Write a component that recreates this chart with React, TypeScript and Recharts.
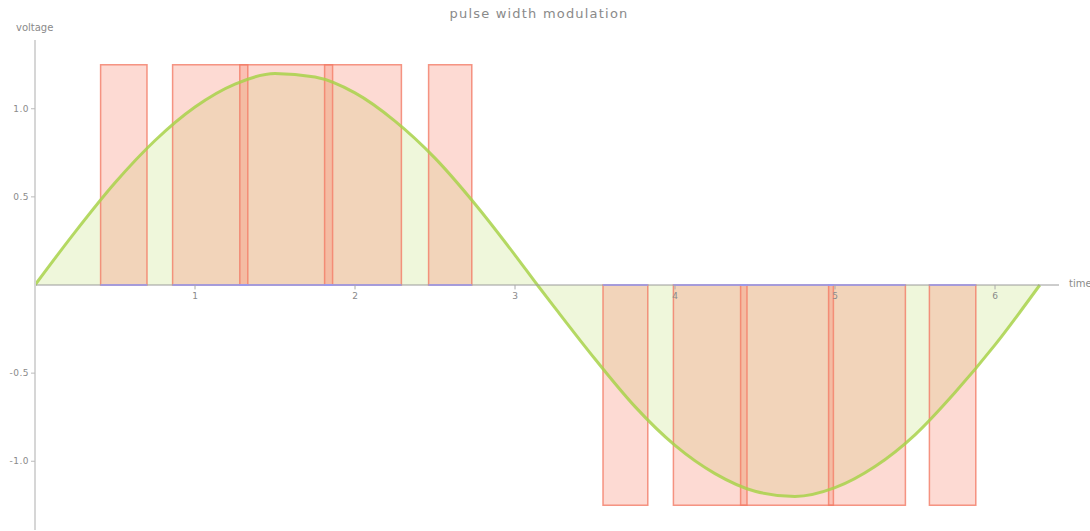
import {
  ComposedChart,
  Area,
  Line,
  XAxis,
  YAxis,
  ReferenceArea,
  ReferenceLine,
  ReferenceDot,
} from "recharts";

// sine reference, sampled along time
const sineTime = [0, 0.25, 0.5, 0.75, 1.0, 1.25, 1.5, 1.75, 2.0, 2.25, 2.5, 2.75, 3.0, 3.14, 3.25, 3.5, 3.75, 4.0, 4.25, 4.5, 4.75, 5.0, 5.25, 5.5, 5.75, 6.0, 6.28];
const sineVoltage = [0, 0.3, 0.58, 0.82, 1.01, 1.14, 1.2, 1.18, 1.09, 0.93, 0.72, 0.46, 0.17, 0, -0.13, -0.42, -0.69, -0.91, -1.07, -1.17, -1.2, -1.15, -1.03, -0.85, -0.61, -0.34, 0];

// pulse windows (start, end) and level
const pulseStart = [0.41, 0.86, 1.28, 1.81, 2.46, 3.55, 3.99, 4.41, 4.96, 5.59];
const pulseEnd = [0.7, 1.33, 1.86, 2.29, 2.73, 3.83, 4.45, 4.99, 5.44, 5.88];
const pulseLevel = [1.25, 1.25, 1.25, 1.25, 1.25, -1.25, -1.25, -1.25, -1.25, -1.25];

const xTicks = [1, 2, 3, 4, 5, 6];
const yTicks = [-1, -0.5, 0.5, 1];

const sineData = sineTime.map((t, i) => ({ t, v: sineVoltage[i] }));

const font = "DejaVu Sans, sans-serif";
const grey = "#8a8a8a";

export default function App() {
  return (
    <div style={{ position: "absolute", left: 0, top: 0, width: 1090, height: 531, background: "#fff" }}>
      <div
        style={{
          fontFamily: font,
          color: grey,
          position: "absolute",
          left: 0,
          width: 1078,
          top: 6,
          textAlign: "center",
          fontSize: 13,
          letterSpacing: 1.2,
        }}
      >
        pulse width modulation
      </div>
      <div style={{ fontFamily: font, color: grey, position: "absolute", left: 16, top: 22, fontSize: 10 }}>voltage</div>
      <div style={{ fontFamily: font, color: grey, position: "absolute", left: 1069, top: 278, fontSize: 10 }}>time</div>
      <ComposedChart
        width={1090}
        height={531}
        data={sineData}
        margin={{ top: 40, right: 31, bottom: 1, left: 0 }}
      >
        <XAxis dataKey="t" type="number" domain={[0, 6.4]} ticks={xTicks} hide />
        <YAxis
          type="number"
          domain={[-1.39, 1.39]}
          ticks={yTicks}
          width={35}
          allowDataOverflow
          tickFormatter={(v: number) => v.toFixed(1)}
          tick={{ fontSize: 9, fill: grey, fontFamily: font, letterSpacing: 0.5 }}
          tickSize={4}
          tickLine={{ stroke: "#bbb" }}
          axisLine={{ stroke: "#d6d6d6", strokeWidth: 2 }}
        />
        <Area
          dataKey="v"
          type="monotone"
          baseValue={0}
          stroke="none"
          fill="#b4dc5a"
          fillOpacity={0.22}
          isAnimationActive={false}
        />
        {pulseStart.map((s, i) => (
          <ReferenceArea
            key={`p${i}`}
            x1={s}
            x2={pulseEnd[i]}
            y1={0}
            y2={pulseLevel[i]}
            fill="#f8866c"
            fillOpacity={0.3}
            stroke="#f27c66"
            strokeOpacity={0.8}
            strokeWidth={1.5}
          />
        ))}
        <Line
          dataKey="v"
          type="monotone"
          stroke="#a8d24a"
          strokeOpacity={0.85}
          strokeWidth={3}
          dot={false}
          activeDot={false}
          isAnimationActive={false}
        />
        <ReferenceLine y={0} stroke="#9a9a9a" strokeWidth={1} />
        {pulseStart.map((s, i) => (
          <ReferenceLine
            key={`b${i}`}
            segment={[{ x: s, y: 0 }, { x: pulseEnd[i], y: 0 }]}
            stroke="#9a9af0"
            strokeWidth={1.5}
          />
        ))}
        {xTicks.map((k) => (
          <ReferenceLine
            key={`t${k}`}
            segment={[{ x: k, y: 0 }, { x: k, y: -0.025 }]}
            stroke="#aaa"
          />
        ))}
        {xTicks.map((k) => (
          <ReferenceDot
            key={`l${k}`}
            x={k}
            y={0}
            r={0}
            fill="none"
            stroke="none"
            label={{ value: String(k), position: "bottom", offset: 8, fontSize: 9, fill: grey, fontFamily: font }}
          />
        ))}
      </ComposedChart>
    </div>
  );
}
